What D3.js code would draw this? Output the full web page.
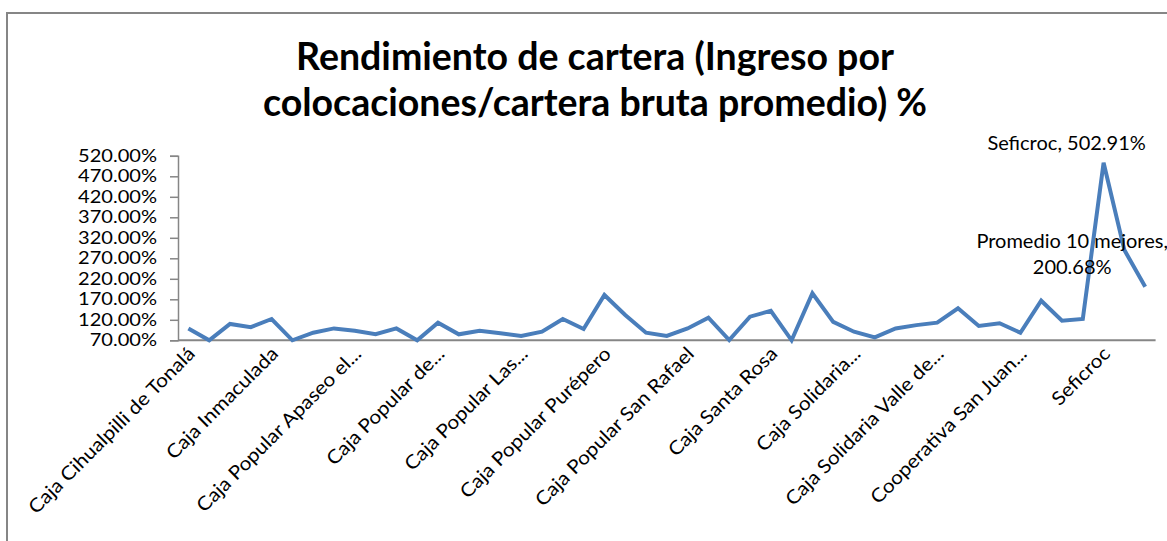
<!DOCTYPE html>
<html>
<head>
<meta charset="utf-8">
<script src="https://cdn.jsdelivr.net/npm/d3@7"></script>
<style>
  body { margin: 0; background: #fff; }
  svg text { font-family: Lato, "Open Sans", sans-serif; fill: #000; }
</style>
</head>
<body>
<div class="wrapper"></div>
<script>
const WIDTH = 1167
const HEIGHT = 541
const margin = {left: 178, right: 11.4, top: 155.8, bottom: 200.7}

// rendimiento por entidad, %
var values = [
  99, 70, 110, 102, 122, 70, 88.5, 99, 93.5, 85,
  99, 70, 113, 84.6, 93.5, 87, 80.5, 91, 122, 97.5,
  180.5, 131.7, 88.5, 80.5, 99, 125, 70.7, 127.6, 142, 70,
  184.6, 115, 91, 77, 99, 107, 113, 148, 105, 111.5,
  88.5, 166.6, 117.8, 122, 502.91, 290, 200.68
]

// only every 4th category name is printed on the axis
var tickLabels = {
  0: 'Caja Cihualpilli de Tonalá',
  4: 'Caja Inmaculada',
  8: 'Caja Popular Apaseo el...',
  12: 'Caja Popular de...',
  16: 'Caja Popular Las...',
  20: 'Caja Popular Purépero',
  24: 'Caja Popular San Rafael',
  28: 'Caja Santa Rosa',
  32: 'Caja Solidaria...',
  36: 'Caja Solidaria Valle de...',
  40: 'Cooperativa San Juan...',
  44: 'Seficroc'
}

var yTicks = [70, 120, 170, 220, 270, 320, 370, 420, 470, 520]

var dataLabels = [
  {index: 44, lines: ['Seficroc, 502.91%'], dx: -37, dy: -13},
  {index: 46, lines: ['Promedio 10 mejores,', '200.68%'], dx: -73, dy: -13}
]

var titleLines = ['Rendimiento de cartera (Ingreso por', 'colocaciones/cartera bruta promedio) %']

const lineColor = '#4A7EBB'
const axisColor = '#868686'
const stretch = 1.18   // glyphs in the picture are wider than Lato

var svg = d3.select(".wrapper")
    .append("svg")
    .attr("width", WIDTH)
    .attr("height", HEIGHT)

// chart frame (runs off the right and bottom edge)
svg.append("rect")
    .attr("x", 7).attr("y", 13)
    .attr("width", 1300).attr("height", 700)
    .attr("fill", "none")
    .attr("stroke", axisColor)
    .attr("stroke-width", 2)

svg.selectAll("text.title")
    .data(titleLines)
    .join("text")
    .attr("class", "title")
    .attr("x", 595)
    .attr("y", (d, i) => 70 + i * 46)
    .attr("text-anchor", "middle")
    .style("font-weight", "bold")
    .style("font-size", "37.5px")
    .text(d => d)

var x = d3.scaleBand(d3.range(values.length), [margin.left, WIDTH - margin.right])
var y = d3.scaleLinear([70, 520], [HEIGHT - margin.bottom, margin.top])
var cx = i => x(i) + x.bandwidth() / 2

// y axis
var yAxis = svg.append("g")
    .attr("transform", `translate(${margin.left},0)`)
    .call(d3.axisLeft(y).tickValues(yTicks).tickSize(8).tickPadding(12)
        .tickFormat(d => d.toFixed(2) + '%'))
yAxis.select(".domain").attr("stroke", axisColor).attr("stroke-width", 1.5)
yAxis.selectAll(".tick line").attr("stroke", axisColor).attr("stroke-width", 1.5)
yAxis.selectAll(".tick text")
    .attr("x", -21 / stretch)
    .attr("transform", `scale(${stretch},1)`)
    .style("font-size", "17px")
    .style("font-family", "Lato")
    .attr("fill", "#000")

// x axis line
svg.append("line")
    .attr("x1", margin.left).attr("x2", WIDTH - margin.right)
    .attr("y1", y(70)).attr("y2", y(70))
    .attr("stroke", axisColor)
    .attr("stroke-width", 2)

svg.append("g")
  .selectAll("text")
  .data(Object.keys(tickLabels).map(Number))
  .join("text")
    .attr("transform", d => `translate(${cx(d) + 3},${y(70) + 10}) rotate(-45) scale(1.1,1)`)
    .attr("text-anchor", "end")
    .attr("dy", "0.35em")
    .style("font-size", "19px")
    .text(d => tickLabels[d])

var line = d3.line()
    .x((d, i) => cx(i))
    .y(d => y(d))

svg.append("path")
    .datum(values)
    .attr("d", line)
    .attr("fill", "none")
    .attr("stroke", lineColor)
    .attr("stroke-width", 4)
    .attr("stroke-linejoin", "miter")

dataLabels.forEach(function(lbl) {
  var t = svg.append("text")
      .attr("text-anchor", "middle")
      .style("font-size", "20px")
  lbl.lines.forEach(function(s, k) {
    t.append("tspan")
      .attr("x", cx(lbl.index) + lbl.dx)
      .attr("y", y(values[lbl.index]) + lbl.dy + (k - lbl.lines.length + 1) * 26)
      .text(s)
  })
})
</script>
</body>
</html>
